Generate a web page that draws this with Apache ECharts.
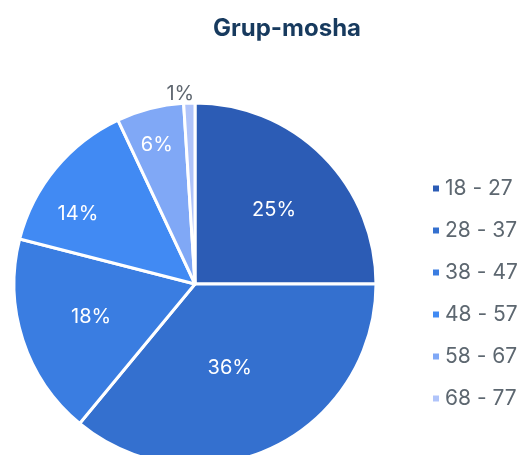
<!DOCTYPE html>
<html><head><meta charset="utf-8">
<script src="https://cdn.jsdelivr.net/npm/echarts@6/dist/echarts.min.js"></script>
<style>html,body{margin:0;padding:0;background:#fff}#c{width:528px;height:455px}</style>
</head><body><div id="c"></div>
<script>
const title = 'Grup-mosha';
const categories = ['18 - 27','28 - 37','38 - 47','48 - 57','58 - 67','68 - 77'];
const values = [25, 36, 18, 14, 6, 1];
const colors = ['#2c5cb5','#3470cf','#3a7de1','#418af3','#80a8f6','#b0c4fa'];
// label nudges (style only)
const labelOffsets = [[13,-8],[-5,-1],[-15,4],[-45,-10],[-15,-48],[5,-5]];

const chart = echarts.init(document.getElementById('c'));
const data = categories.map((n,i)=>{
  const d = {name:n, value:values[i], itemStyle:{color:colors[i]}, label:{offset:labelOffsets[i]}};
  if (values[i] < 3) {
    d.label = {position:'outside', color:'#5f6770', distanceToLabelLine:0, offset:labelOffsets[i]};
    d.labelLine = {show:false, length:4, length2:0};
  }
  return d;
});
chart.setOption({
  animation:false,
  title:{text:title, left:282, top:12, textAlign:'center',
    textStyle:{fontFamily:'Inter', fontWeight:'bold', fontSize:24, color:'#173a5e'}},
  legend:{orient:'vertical', left:426, top:173, itemWidth:8, itemHeight:8, itemGap:21, icon:'rect',
    textStyle:{fontFamily:'Inter', fontSize:21, color:'#5d6770'}, data:categories},
  series:[{type:'pie', center:[195,284], radius:181, startAngle:90, clockwise:true,
    itemStyle:{borderColor:'#fff', borderWidth:3},
    label:{show:true, position:'inside', formatter:'{d}%', color:'#fff', fontFamily:'Inter', fontSize:20},
    labelLine:{show:false},
    data:data}]
});
</script></body></html>
